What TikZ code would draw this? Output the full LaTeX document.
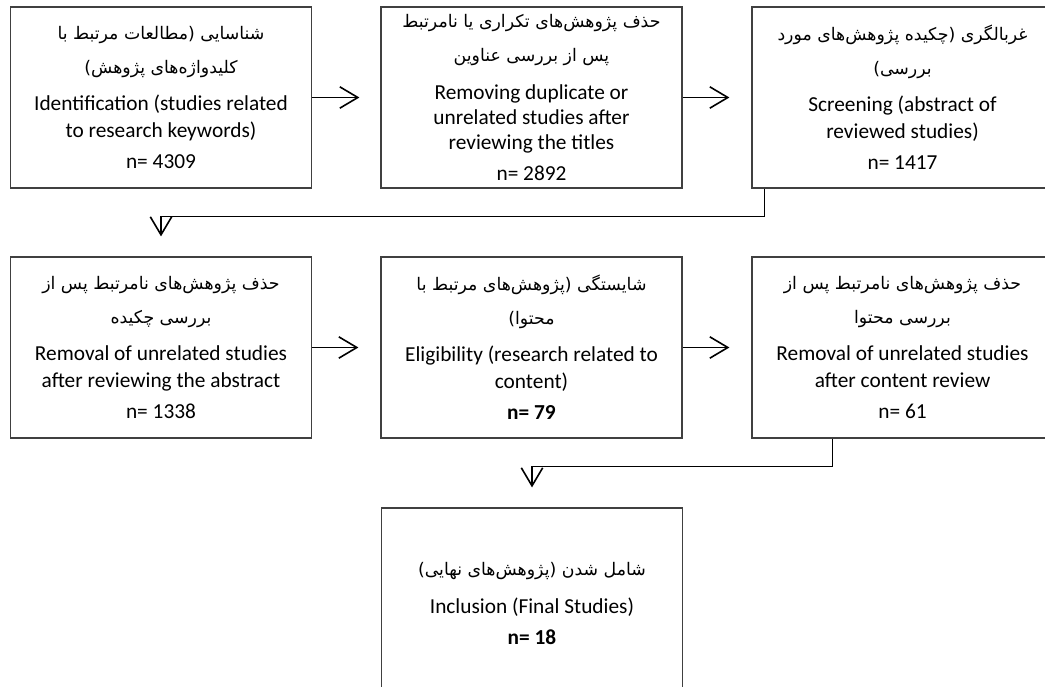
\documentclass[tikz,border=0pt]{standalone}
\usepackage{fontspec}
\setmainfont{Carlito}
\newfontfamily\fa[Script=Arabic]{DejaVu Sans}
\TeXXeTstate=1
\usetikzlibrary{calc,positioning,arrows.meta}
\definecolor{boxline}{HTML}{404040}
\newcommand{\fl}[1]{{\fa\fontsize{13}{16}\selectfont\beginR #1\endR}}

\begin{document}
\begin{tikzpicture}[x=0.75pt,y=-0.75pt,
  stage/.style={draw=boxline,line width=0.9pt,minimum width=225.75pt,
    minimum height=135.75pt,align=center,inner sep=0pt,
    font=\fontsize{16}{20.25}\selectfont},
  arr/.style={line width=1.2pt,-{Straight Barb[length=13.5pt,width=16pt]}}]
  \useasboundingbox (0,0) rectangle (1045,686);
  \clip (0,0) rectangle (1045,686);
  % first row
  \node[stage] (b1) at (161,97.5) {\fl{شناسایی (مطالعات مرتبط با}\\[5pt]
    \fl{کلیدواژه^^^^200cهای پژوهش)}\\[8pt]
    Identification (studies related\\ to research keywords)\\[3pt] n= 4309};
  \node[stage] (b2) at (531.5,97.5) {\fl{حذف پژوهش^^^^200cهای تکراری یا نامرتبط}\\[5pt]
    \fl{پس از بررسی عناوین}\\[8pt]
    Removing duplicate or\\[-1.5pt] unrelated studies after\\[-1.5pt] reviewing the titles\\[3pt] n= 2892};
  \node[stage] (b3) at (902.5,97.5) {\fl{غربالگری (چکیده پژوهش^^^^200cهای مورد}\\[5pt]
    \fl{بررسی)}\\[8pt]
    Screening (abstract of\\ reviewed studies)\\[3pt] n= 1417};
  % second row
  \node[stage] (b4) at (161,347.5) {\fl{حذف پژوهش^^^^200cهای نامرتبط پس از}\\[5pt]
    \fl{بررسی چکیده}\\[8pt]
    Removal of unrelated studies\\ after reviewing the abstract\\[3pt] n= 1338};
  \node[stage] (b5) at (531.5,347.5) {\fl{شایستگی (پژوهش^^^^200cهای مرتبط با}\\[5pt]
    \fl{محتوا)}\\[8pt]
    Eligibility (research related to\\ content)\\[3pt] \textbf{n= 79}};
  \node[stage] (b6) at (902.5,347.5) {\fl{حذف پژوهش^^^^200cهای نامرتبط پس از}\\[5pt]
    \fl{بررسی محتوا}\\[8pt]
    Removal of unrelated studies\\ after content review\\[3pt] n= 61};
  % last box, cut by the page edge
  \node[stage,minimum height=143.25pt] (b7) at (532,603.5) {\fl{شامل شدن (پژوهش^^^^200cهای نهایی)}\\[8pt]
    Inclusion (Final Studies)\\[3pt] \textbf{n= 18}};
  % connectors
  \draw[arr,shorten >=15.75pt] (b1) -- (b2);
  \draw[arr,shorten >=16.5pt] (b2) -- (b3);
  \draw[arr,shorten >=16.5pt] (b4) -- (b5);
  \draw[arr,shorten >=16.5pt] (b5) -- (b6);
  \draw[arr] ([xshift=9.75pt]b3.south west) -- ++(0,28) -| ($(b4.north)+(0,-20)$);
  \draw[arr] ([xshift=60.75pt]b6.south west) -- ++(0,28) -| ($(b7.north)+(0,-20)$);
\end{tikzpicture}
\end{document}
